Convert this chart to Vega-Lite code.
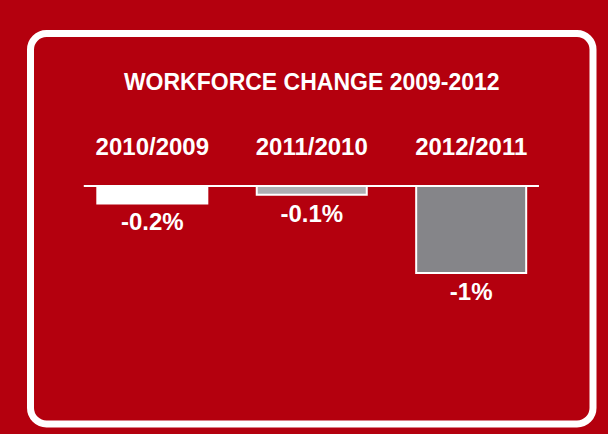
{
  "$schema": "https://vega.github.io/schema/vega-lite/v6.json",
  "width": 562.5,
  "height": 390.5,
  "autosize": {"type": "none"},
  "padding": {"left": 30.5, "top": 33.5, "right": 15, "bottom": 10},
  "background": "#b4000e",
  "title": {
    "text": "WORKFORCE CHANGE 2009-2012",
    "anchor": "middle",
    "offset": -72.5,
    "baseline": "middle",
    "font": "Liberation Sans",
    "fontSize": 23,
    "fontWeight": "bold",
    "color": "white"
  },
  "data": {
    "values": [
      {"period": "2010/2009", "change": -0.2, "label": "-0.2%"},
      {"period": "2011/2010", "change": -0.1, "label": "-0.1%"},
      {"period": "2012/2011", "change": -1, "label": "-1%"}
    ]
  },
  "layer": [
    {
      "mark": {"type": "bar", "stroke": "white", "strokeWidth": 2},
      "encoding": {
        "x": {
          "field": "period",
          "type": "nominal",
          "scale": {"paddingInner": 0.31, "paddingOuter": 0.419},
          "axis": {
            "orient": "top",
            "title": null,
            "domain": false,
            "ticks": false,
            "grid": false,
            "labelAngle": 0,
            "labelPadding": 0,
            "labelBaseline": "middle",
            "labelFont": "Liberation Sans",
            "labelFontSize": 24,
            "labelFontWeight": "bold",
            "labelColor": "white",
            "offset": -114
          }
        },
        "y": {
          "field": "change",
          "type": "quantitative",
          "scale": {"domain": [-2.736, 1.753], "nice": false},
          "axis": null
        },
        "color": {
          "field": "period",
          "type": "nominal",
          "scale": {
            "domain": ["2010/2009", "2011/2010", "2012/2011"],
            "range": ["#ffffff", "#aeaeb2", "#858589"]
          },
          "legend": null
        }
      }
    },
    {
      "mark": {"type": "rule", "color": "white", "strokeWidth": 2},
      "encoding": {
        "x": {"field": "period", "type": "nominal", "aggregate": "min", "bandPosition": -0.123},
        "x2": {"field": "period", "aggregate": "max", "bandPosition": 1.116},
        "y": {"datum": 0}
      }
    },
    {
      "mark": {
        "type": "text",
        "dy": 20,
        "baseline": "middle",
        "font": "Liberation Sans",
        "fontSize": 24,
        "fontWeight": "bold",
        "color": "white"
      },
      "encoding": {
        "x": {"field": "period", "type": "nominal"},
        "y": {"field": "change", "type": "quantitative"},
        "text": {"field": "label"}
      }
    }
  ],
  "config": {
    "view": {
      "fill": "#b4000e",
      "stroke": "white",
      "strokeWidth": 7,
      "cornerRadius": 16
    }
  }
}
